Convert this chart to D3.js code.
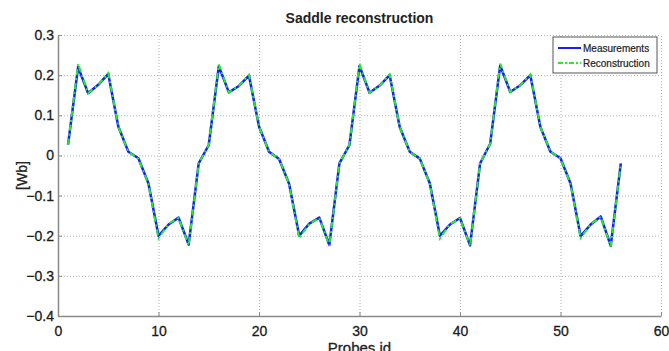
<!DOCTYPE html>
<html>
<head>
<meta charset="utf-8">
<script src="https://cdn.jsdelivr.net/npm/d3@7"></script>
<style>
  html, body { margin: 0; padding: 0; background: #fff; }
  svg { display: block; font-family: "Liberation Sans", Arial, sans-serif; }
</style>
</head>
<body>
<svg id="chart" width="669" height="351"></svg>
<script>
// probe ids 1..56
const probes = d3.range(1, 57);

// measured flux per probe [Wb]
const measurements = [
  0.027, 0.220, 0.155, 0.176, 0.203, 0.072, 0.009, -0.007, -0.070, -0.200, -0.172, -0.155, -0.222, -0.020,
  0.026, 0.222, 0.157, 0.173, 0.199, 0.072, 0.009, -0.009, -0.071, -0.200, -0.170, -0.155, -0.223, -0.020,
  0.026, 0.223, 0.156, 0.174, 0.200, 0.071, 0.009, -0.008, -0.070, -0.200, -0.172, -0.156, -0.224, -0.020,
  0.029, 0.224, 0.158, 0.175, 0.200, 0.071, 0.009, -0.007, -0.070, -0.201, -0.172, -0.152, -0.225, -0.020
];

// reconstructed flux per probe [Wb]
const reconstruction = [
  0.027, 0.228, 0.155, 0.176, 0.205, 0.072, 0.009, -0.008, -0.071, -0.207, -0.170, -0.156, -0.224, -0.020,
  0.026, 0.227, 0.157, 0.173, 0.201, 0.072, 0.009, -0.009, -0.072, -0.206, -0.170, -0.156, -0.225, -0.020,
  0.026, 0.228, 0.156, 0.174, 0.202, 0.071, 0.009, -0.008, -0.071, -0.207, -0.171, -0.157, -0.225, -0.020,
  0.029, 0.229, 0.158, 0.175, 0.202, 0.071, 0.009, -0.008, -0.071, -0.206, -0.171, -0.153, -0.227, -0.020
];

const xTicks = [0, 10, 20, 30, 40, 50, 60];
const yTicks = [-0.4, -0.3, -0.2, -0.1, 0, 0.1, 0.2, 0.3];

const margin = { top: 35, right: 8, bottom: 35, left: 58 };
const width = 669, height = 351;

const svg = d3.select("#chart");

const x = d3.scaleLinear().domain([0, 60]).range([margin.left, width - margin.right]);
const y = d3.scaleLinear().domain([-0.4, 0.3]).range([height - margin.bottom, margin.top]);

// dotted grid (includes top and right edges)
const grid = svg.append("g").attr("stroke", "#b0b0b0").attr("stroke-width", 1).attr("stroke-dasharray", "1,2");
grid.selectAll(".gx").data(xTicks.slice(1)).join("line")
  .attr("x1", d => x(d) + 0.5).attr("x2", d => x(d) + 0.5)
  .attr("y1", y(-0.4)).attr("y2", y(0.3));
grid.selectAll(".gy").data(yTicks.slice(1)).join("line")
  .attr("x1", x(0)).attr("x2", x(60))
  .attr("y1", d => y(d) + 0.5).attr("y2", d => y(d) + 0.5);

// left and bottom axes
const xAxis = svg.append("g")
  .attr("transform", `translate(0,${y(-0.4)})`)
  .call(d3.axisBottom(x).tickValues(xTicks).tickFormat(d3.format("d")).tickSizeInner(-4).tickSizeOuter(0).tickPadding(10));
const yAxis = svg.append("g")
  .attr("transform", `translate(${x(0)},0)`)
  .call(d3.axisLeft(y).tickValues(yTicks).tickFormat(d => d === 0 ? "0" : d3.format(".1f")(d)).tickSizeInner(-4).tickSizeOuter(0).tickPadding(4));

[xAxis, yAxis].forEach(a => {
  a.select(".domain").attr("stroke", "#8a8a8a").attr("stroke-width", 1.5);
  a.selectAll(".tick line").attr("stroke", "#8a8a8a");
  a.selectAll(".tick text").attr("fill", "#1a1a1a").attr("font-size", 14)
    .attr("stroke", "#1a1a1a").attr("stroke-width", 0.3)
    .attr("font-family", "Liberation Sans, Arial, sans-serif");
});

// series lines
const line = d3.line().x((d, i) => x(probes[i])).y(d => y(d));

svg.append("path").datum(measurements)
  .attr("fill", "none").attr("stroke", "#1a1aff").attr("stroke-width", 2.5)
  .attr("stroke-linejoin", "round").attr("d", line);

svg.append("path").datum(reconstruction)
  .attr("fill", "none").attr("stroke", "#22ee22").attr("stroke-width", 2)
  .attr("stroke-dasharray", "6,3,2,3").attr("d", line);

// title and axis labels
svg.append("text").attr("x", (x(0) + x(60)) / 2).attr("y", 23)
  .attr("text-anchor", "middle").attr("font-size", 14).attr("font-weight", "bold").attr("fill", "#222")
  .text("Saddle reconstruction");

svg.append("text").attr("x", (x(0) + x(60)) / 2).attr("y", 353)
  .attr("text-anchor", "middle").attr("font-size", 15).attr("fill", "#222")
  .attr("stroke", "#222").attr("stroke-width", 0.3)
  .text("Probes id");

svg.append("text")
  .attr("transform", `translate(27,${(y(-0.4) + y(0.3)) / 2}) rotate(-90)`)
  .attr("text-anchor", "middle").attr("font-size", 14).attr("fill", "#222")
  .attr("stroke", "#222").attr("stroke-width", 0.3)
  .text("[Wb]");

// legend
const legend = svg.append("g").attr("transform", "translate(553,37)");
legend.append("rect").attr("width", 104).attr("height", 36)
  .attr("fill", "#fff").attr("stroke", "#555").attr("stroke-width", 1);
const items = [
  { name: "Measurements", color: "#1a1aff", dash: null, w: 2 },
  { name: "Reconstruction", color: "#22ee22", dash: "5,2,2,2", w: 2 }
];
items.forEach((it, i) => {
  const yy = 11 + i * 15;
  legend.append("line").attr("x1", 5).attr("x2", 28).attr("y1", yy).attr("y2", yy)
    .attr("stroke", it.color).attr("stroke-width", it.w).attr("stroke-dasharray", it.dash);
  legend.append("text").attr("x", 30).attr("y", yy + 3.5)
    .attr("font-size", 10).attr("fill", "#222").attr("stroke", "#222").attr("stroke-width", 0.2)
    .text(it.name);
});
</script>
</body>
</html>
